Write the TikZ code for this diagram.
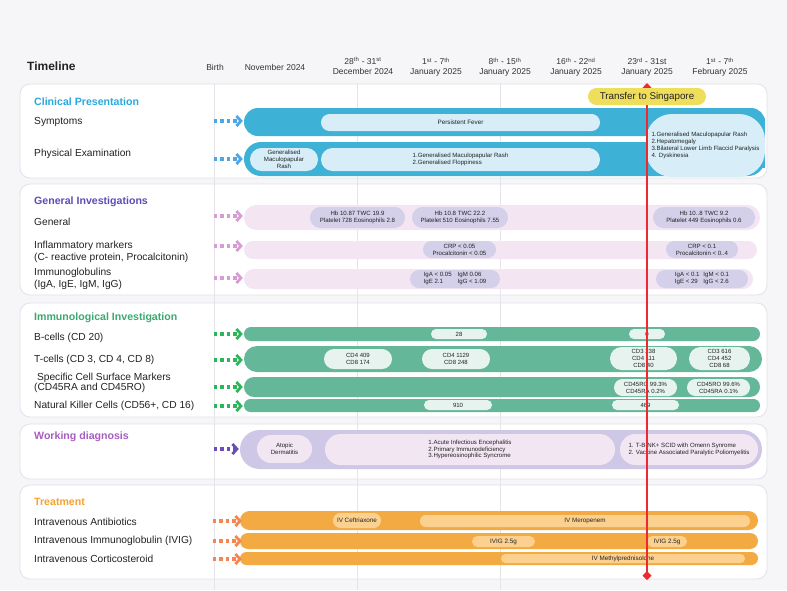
\documentclass[tikz,border=0pt]{standalone}
\usepackage{fontspec}
\setmainfont{Liberation Sans}
\usetikzlibrary{arrows.meta}
\definecolor{bgc}{HTML}{F6F6F8}
\definecolor{panelln}{HTML}{E2E2E7}
\definecolor{gridln}{HTML}{E4E4E9}
\definecolor{txt}{HTML}{222222}
\definecolor{hdrtxt}{HTML}{333333}
\definecolor{cttl}{HTML}{2AA9DD}
\definecolor{cbar}{HTML}{3DB1D6}
\definecolor{clight}{HTML}{D7EEF8}
\definecolor{carr}{HTML}{4DA6E6}
\definecolor{gttl}{HTML}{5B4DB7}
\definecolor{gbar}{HTML}{F3E5F2}
\definecolor{glight}{HTML}{D4D0EA}
\definecolor{garr}{HTML}{D89BD6}
\definecolor{ittl}{HTML}{3BAA6E}
\definecolor{ibar}{HTML}{64B899}
\definecolor{ilight}{HTML}{E7F3EF}
\definecolor{iarr}{HTML}{2DB55A}
\definecolor{wttl}{HTML}{A65EBF}
\definecolor{wbar}{HTML}{CEC8E6}
\definecolor{wlight}{HTML}{F2E6F2}
\definecolor{warr}{HTML}{6B4DB6}
\definecolor{tttl}{HTML}{F6A233}
\definecolor{tbar}{HTML}{F3AA43}
\definecolor{tlight}{HTML}{FCD190}
\definecolor{tarr}{HTML}{F6854F}
\definecolor{redl}{HTML}{EC2A30}
\definecolor{yel}{HTML}{EFDD5C}
\newcommand\rbx[7]{%
  \pgfmathsetmacro\rbw{#4-#2}%
  \pgfmathsetmacro\rbh{#5-#3}%
  \pgfmathsetmacro\rbxc{(#2+#4)/2}%
  \pgfmathsetmacro\rbyc{(#3+#5)/2}%
  \pgfmathsetmacro\rbr{\rbh/2-0.05}%
  \node[rectangle, inner sep=0pt, minimum width=\rbw pt, minimum height=\rbh pt,
        rounded corners=\rbr pt, #6] (#1) at (\rbxc,\rbyc) {#7};}
\begin{document}
\begin{tikzpicture}[x=1pt,y=-1pt,
  panel/.style={fill=white, draw=panelln, line width=0.8pt, rounded corners=10pt},
  lbl/.style={anchor=west, inner sep=0pt, font=\fontsize{10.2}{11.6}\selectfont, text=txt, align=left},
  ttl/.style={anchor=west, inner sep=0pt, font=\bfseries\fontsize{10.6}{12}\selectfont},
  hdr/.style={inner sep=0pt, font=\fontsize{8.5}{9.6}\selectfont, align=center, text=hdrtxt},
  tiny/.style={font=\fontsize{6.1}{6.8}\selectfont, text=txt, align=center},
  tinyi/.style={font=\fontsize{6}{7}\selectfont, text=txt, align=center},
  tinyt/.style={font=\fontsize{6.3}{7}\selectfont, text=txt, align=center},
  dotarrow/.style={line width=3.4pt, dash pattern=on 3.4pt off 3pt,
     -{Straight Barb[length=4.5pt,width=10pt,line width=2.8pt]}, shorten >=1pt}
]
\useasboundingbox (0,0) rectangle (787,590);
\fill[bgc] (0,0) rectangle (787,590);

% header
\node[anchor=west, inner sep=0pt, font=\bfseries\fontsize{12}{14}\selectfont, text=txt] (tl) at (27,66) {Timeline};
\node[hdr] (h0) at (215,67) {Birth};
\node[hdr] (h1) at (275,67) {November 2024};
\node[hdr] (h2) at (363,66) {28\textsuperscript{th} - 31\textsuperscript{st}\\December 2024};
\node[hdr] (h3) at (436,67) {1\textsuperscript{st} - 7\textsuperscript{th}\\January 2025};
\node[hdr] (h4) at (505,67) {8\textsuperscript{th} - 15\textsuperscript{th}\\January 2025};
\node[hdr] (h5) at (576,67) {16\textsuperscript{th} - 22\textsuperscript{nd}\\January 2025};
\node[hdr] (h6) at (647,67) {23\textsuperscript{rd} - 31st\\January 2025};
\node[hdr] (h7) at (720,67) {1\textsuperscript{st} - 7\textsuperscript{th}\\February 2025};

% panels
\rbx{p1}{20}{84}{767}{178}{panel}{}
\rbx{p2}{20}{184}{767}{295}{panel}{}
\rbx{p3}{20}{303}{767}{417}{panel}{}
\rbx{p4}{20}{424}{767}{479}{panel}{}
\rbx{p5}{20}{485}{767}{579}{panel}{}

% grid lines
\foreach \gx in {214,357,500} \draw[gridln, line width=0.8pt] (\gx,84) -- (\gx,590);

% labels
\node[ttl, text=cttl] (tclin) at (34,102) {Clinical Presentation};
\node[lbl] (lsymp) at (34,122) {Symptoms};
\node[lbl] (lphys) at (34,154) {Physical Examination};
\node[ttl, text=gttl] (tgen) at (34,202) {General Investigations};
\node[lbl] (lgen) at (34,222) {General};
\node[lbl] (linf) at (34,252) {Inflammatory markers\\(C- reactive protein, Procalcitonin)};
\node[lbl] (limm) at (34,279) {Immunoglobulins\\(IgA, IgE, IgM, IgG)};
\node[ttl, text=ittl] (timm) at (34,318) {Immunological Investigation};
\node[lbl] (lb) at (34,338) {B-cells (CD 20)};
\node[lbl] (lt) at (34,360) {T-cells (CD 3, CD 4, CD 8)};
\node[lbl, font=\fontsize{10.2}{10.7}\selectfont] (ls) at (34,383) {\ Specific Cell Surface Markers\\(CD45RA and CD45RO)};
\node[lbl] (ln) at (34,406) {Natural Killer Cells (CD56+, CD 16)};
\node[ttl, text=wttl] (twd) at (34,437) {Working diagnosis};
\node[ttl, text=tttl] (ttr) at (34,502) {Treatment};
\node[lbl] (lab) at (34,522) {Intravenous Antibiotics};
\node[lbl] (liv) at (34,541) {Intravenous Immunoglobulin (IVIG)};
\node[lbl] (lcs) at (34,559) {Intravenous Corticosteroid};

% clinical presentation
\rbx{symp}{244}{108}{765}{136}{fill=cbar}{}
\rbx{phys}{244}{142}{765}{176}{fill=cbar}{}
\fill[cbar] (700,118) rectangle (765,168);
\rbx{fever}{321}{114}{600}{131}{fill=clight, tiny, font=\fontsize{6.3}{7}\selectfont}{Persistent Fever}
\rbx{pe1}{250}{148}{318}{171}{fill=clight, tiny}{Generalised\\Maculopapular\\Rash}
\rbx{pe2}{321}{148}{600}{171}{fill=clight, tiny, align=left}{1.Generalised Maculopapular Rash\\2.Generalised Floppiness}
\rbx{pe3}{646}{114}{765}{177}{fill=clight, tiny, align=left, rounded corners=26pt}{1.Generalised Maculopapular Rash\\2.Hepatomegaly\\3.Bilateral Lower Limb Flaccid Paralysis\\4. Dyskinesia}

% general investigations
\rbx{gen}{244}{205}{760}{230}{fill=gbar}{}
\rbx{g1}{310}{207}{405}{228}{fill=glight, tiny}{Hb 10.87 TWC 19.9\\Platelet 728 Eosinophils 2.8}
\rbx{g2}{412}{207}{508}{228}{fill=glight, tiny}{Hb 10.8 TWC 22.2\\Platelet 510 Eosinophils 7.55}
\rbx{g3}{653}{207}{755}{228}{fill=glight, tiny}{Hb 10..8 TWC 9.2\\Platelet 449 Eosinophils 0.6}
\rbx{inf}{244}{241}{757}{259}{fill=gbar}{}
\rbx{i1}{423}{241}{496}{258}{fill=glight, tiny}{CRP < 0.05\\Procalcitonin < 0.05}
\rbx{i2}{666}{241}{738}{258}{fill=glight, tiny}{CRP < 0.1\\Procalcitonin < 0..4}
\rbx{igb}{244}{269}{753}{289}{fill=gbar}{}
\rbx{ig1}{410}{270}{500}{288}{fill=glight, tiny}{\begin{tabular}{@{}l@{\hspace{6pt}}l@{}}IgA < 0.05 & IgM 0.06\\IgE 2.1 & IgG < 1.09\end{tabular}}
\rbx{ig2}{656}{270}{748}{288}{fill=glight, tiny}{\begin{tabular}{@{}l@{\hspace{4pt}}l@{}}IgA < 0.1 & IgM < 0.1\\IgE < 29 & IgG < 2.6\end{tabular}}

% immunological investigation
\rbx{bc}{244}{327}{760}{341}{fill=ibar}{}
\rbx{b1}{431}{329}{487}{339}{fill=ilight, tinyi}{28}
\rbx{b2}{629}{329}{665}{339}{fill=ilight, tinyi}{0}
\rbx{tc}{244}{346}{762}{372}{fill=ibar}{}
\rbx{t1}{324}{349}{392}{369}{fill=ilight, tinyi}{CD4 409\\CD8 174}
\rbx{t2}{422}{349}{490}{369}{fill=ilight, tinyi}{CD4 1129\\CD8 248}
\rbx{t3}{610}{347}{677}{370}{fill=ilight, tinyi}{CD3 238\\CD4 111\\CD8 40}
\rbx{t4}{689}{347}{750}{370}{fill=ilight, tinyi}{CD3 616\\CD4 452\\CD8 68}
\rbx{sc}{244}{377}{760}{397}{fill=ibar}{}
\rbx{s1}{614}{379}{677}{396}{fill=ilight, tinyi}{CD45RO 99.3\%\\CD45RA 0.2\%}
\rbx{s2}{687}{379}{750}{396}{fill=ilight, tinyi}{CD45RO 99.6\%\\CD45RA 0.1\%}
\rbx{nk}{244}{399}{760}{412}{fill=ibar}{}
\rbx{n1}{424}{400}{492}{410}{fill=ilight, tinyi}{910}
\rbx{n2}{612}{400}{679}{410}{fill=ilight, tinyi}{469}

% working diagnosis
\rbx{wd}{240}{430}{762}{469}{fill=wbar}{}
\rbx{wd1}{257}{435}{312}{463}{fill=wlight, tiny}{Atopic\\Dermatitis}
\rbx{wd2}{325}{434}{615}{465}{fill=wlight, tiny, align=left}{1.Acute Infectious Encephalitis\\2.Primary Immunodeficiency\\3.Hypereosinophilic Syncrome}
\rbx{wd3}{620}{434}{758}{465}{fill=wlight, tiny, align=left}{1. T-B-NK+ SCID with Omenn Synrome\\2. Vaccine Associated Paralytic Poliomyelitis}

% treatment
\rbx{ab}{240}{511}{758}{530}{fill=tbar}{}
\rbx{ab1}{333}{513}{381}{528}{fill=tlight, tinyt}{IV Ceftriaxone}
\rbx{ab2}{420}{515}{750}{527}{fill=tlight, tinyt}{IV Meropenem}
\rbx{iv}{240}{533}{758}{549}{fill=tbar}{}
\rbx{iv1}{472}{536}{535}{547}{fill=tlight, tinyt}{IVIG 2.5g}
\rbx{iv2}{647}{536}{687}{547}{fill=tlight, tinyt}{IVIG 2.5g}
\rbx{cs}{240}{552}{758}{565}{fill=tbar}{}
\rbx{cs1}{501}{554}{745}{563}{fill=tlight, tinyt}{IV Methylprednisolone}

% arrows
\coordinate (a1) at (214,121);  \draw[dotarrow, carr] (a1) -- (a1 -| symp.west);
\coordinate (a2) at (214,159);  \draw[dotarrow, carr] (a2) -- (a2 -| phys.west);
\coordinate (a3) at (214,216);  \draw[dotarrow, garr] (a3) -- (a3 -| gen.west);
\coordinate (a4) at (214,246);  \draw[dotarrow, garr] (a4) -- (a4 -| inf.west);
\coordinate (a5) at (214,278);  \draw[dotarrow, garr] (a5) -- (a5 -| igb.west);
\coordinate (a6) at (214,334);  \draw[dotarrow, iarr] (a6) -- (a6 -| bc.west);
\coordinate (a7) at (214,360);  \draw[dotarrow, iarr] (a7) -- (a7 -| tc.west);
\coordinate (a8) at (214,387);  \draw[dotarrow, iarr] (a8) -- (a8 -| sc.west);
\coordinate (a9) at (214,406);  \draw[dotarrow, iarr] (a9) -- (a9 -| nk.west);
\coordinate (a10) at (214,449); \draw[dotarrow, warr] (a10) -- (a10 -| wd.west);
\coordinate (a11) at (213,521); \draw[dotarrow, tarr, shorten >=-2pt] (a11) -- (a11 -| ab.west);
\coordinate (a12) at (213,541); \draw[dotarrow, tarr, shorten >=-2pt] (a12) -- (a12 -| iv.west);
\coordinate (a13) at (213,559); \draw[dotarrow, tarr, shorten >=-2pt] (a13) -- (a13 -| cs.west);

% transfer line
\coordinate (rtop) at (647,83);
\coordinate (rbot) at (647,580);
\draw[redl, line width=2.4pt, {Triangle[length=5pt,width=9pt]}-{Diamond[length=9pt,width=9pt]}] (rtop) -- (rbot);
\rbx{transfer}{588}{88}{706}{105}{fill=yel, font=\fontsize{9.8}{11}\selectfont, text=txt}{Transfer to Singapore}
\end{tikzpicture}
\end{document}
